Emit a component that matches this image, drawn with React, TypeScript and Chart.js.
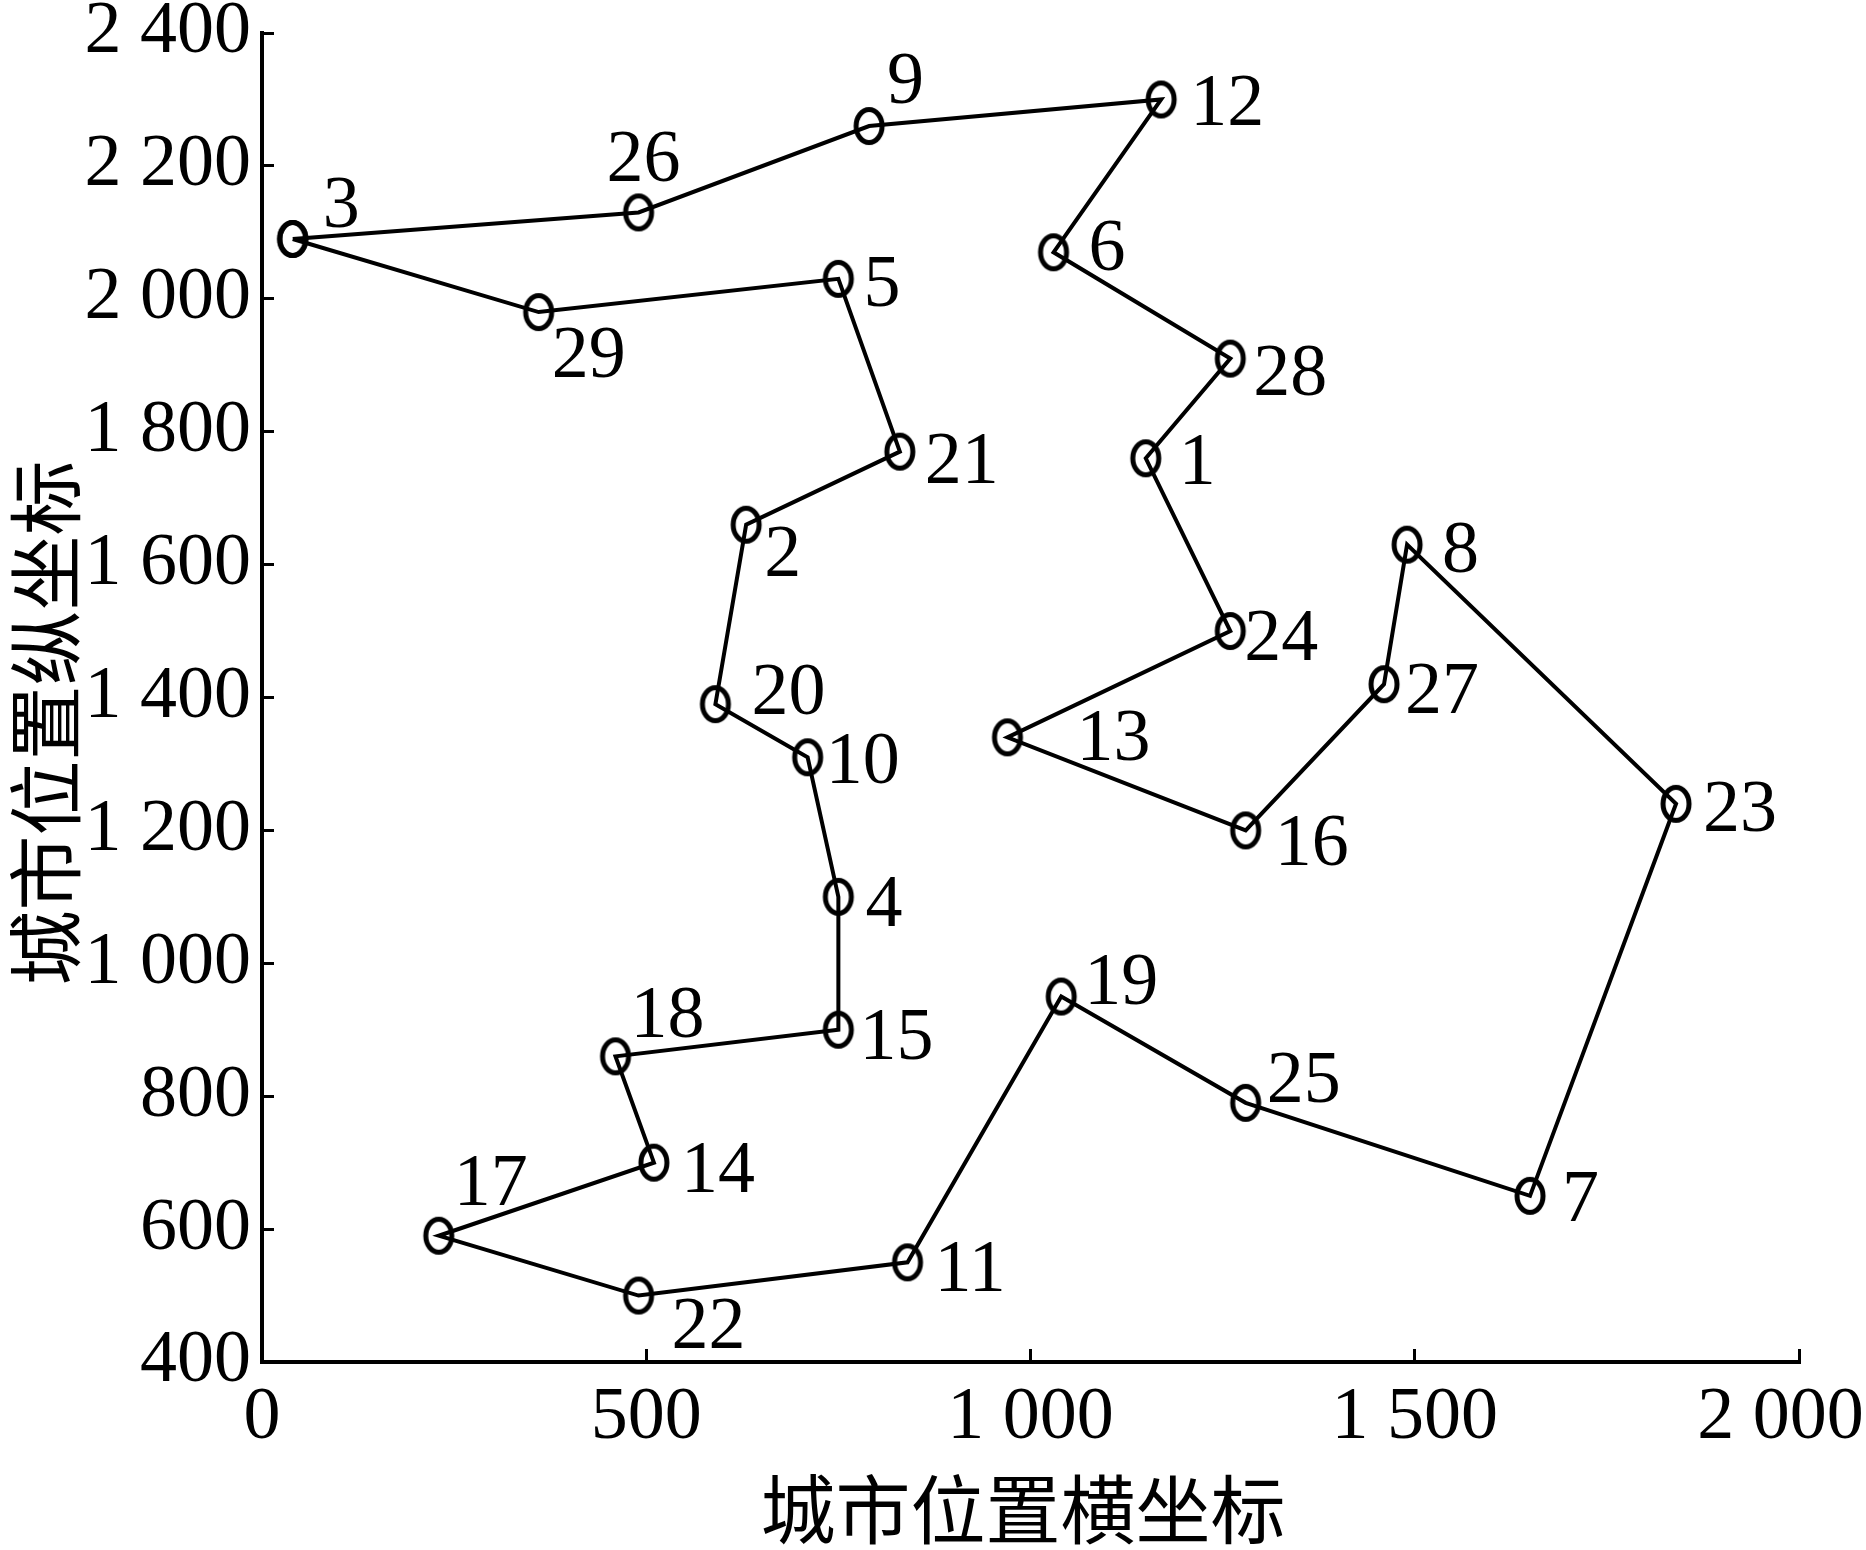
import React, { useEffect, useRef } from 'react';
import { Chart, registerables } from 'chart.js';

Chart.register(...registerables);

// ---- data (city coordinates and the tour drawn in the figure) ----
const cityIds = [1, 2, 3, 4, 5, 6, 7, 8, 9, 10, 11, 12, 13, 14, 15, 16, 17, 18, 19, 20, 21, 22, 23, 24, 25, 26, 27, 28, 29];
const cityX = [1150, 630, 40, 750, 750, 1030, 1650, 1490, 790, 710, 840, 1170, 970, 510, 750, 1280, 230, 460, 1040, 590, 830, 490, 1840, 1260, 1280, 490, 1460, 1260, 360];
const cityY = [1760, 1660, 2090, 1100, 2030, 2070, 650, 1630, 2260, 1310, 550, 2300, 1340, 700, 900, 1200, 590, 860, 950, 1390, 1770, 500, 1240, 1500, 790, 2130, 1420, 1910, 1980];
const tourOrder = [3, 26, 9, 12, 6, 28, 1, 24, 13, 16, 27, 8, 23, 7, 25, 19, 11, 22, 17, 14, 18, 15, 4, 10, 20, 2, 21, 5, 29, 3];

const xTickValues = [0, 500, 1000, 1500, 2000];
const xTickLabels = ['0', '500', '1 000', '1 500', '2 000'];
const yTickValues = [400, 600, 800, 1000, 1200, 1400, 1600, 1800, 2000, 2200, 2400];
const yTickLabels = ['400', '600', '800', '1 000', '1 200', '1 400', '1 600', '1 800', '2 000', '2 200', '2 400'];

const xAxisTitle = '城市位置横坐标';
const yAxisTitle = '城市位置纵坐标';

// ---- styling: label placement relative to each marker (px): [left edge dx, glyph centre dy] ----
const labelOffsets: Record<number, [number, number]> = {
  1: [33, 1], 2: [18, 26], 3: [30, -37], 4: [27, 4], 5: [25, 2], 6: [35, -7], 7: [32, 0],
  8: [35, 2], 9: [18, -48], 10: [18, 1], 11: [27, 4], 12: [29, 1], 13: [69, -2], 14: [27, 4],
  15: [21, 4], 16: [29, 10], 17: [15, -56], 18: [15, -44], 19: [23, -18], 20: [36, -15],
  21: [25, 6], 22: [33, 27], 23: [27, 2], 24: [14, 4], 25: [21, -26], 26: [-32, -56],
  27: [21, 4], 28: [23, 11], 29: [13, 40],
};

const SERIF = "'Liberation Serif', 'Times New Roman', serif";
const CJK = "'Noto Sans CJK SC', 'Noto Sans CJK JP', sans-serif";
const NUM_SIZE = 74;
const TITLE_SIZE = 75;

const CANVAS_W = 1866;
const CANVAS_H = 1550;
const AREA_LEFT = 262;
const AREA_RIGHT = 1799;
const AREA_TOP = 33;
const AREA_BOTTOM = 1362;

function makeMarker(): HTMLCanvasElement {
  const c = document.createElement('canvas');
  c.width = 38;
  c.height = 46;
  const g = c.getContext('2d')!;
  g.strokeStyle = '#000';
  g.lineWidth = 5;
  g.beginPath();
  g.ellipse(19, 23, 13, 16.5, 0, 0, Math.PI * 2);
  g.stroke();
  return c;
}

const cityLabelPlugin = {
  id: 'cityLabels',
  afterDatasetsDraw(chart: any) {
    const { ctx, scales } = chart;
    const xs = scales.x;
    const ys = scales.y;
    ctx.save();
    ctx.fillStyle = '#000';
    ctx.font = `${NUM_SIZE}px ${SERIF}`;
    ctx.textAlign = 'left';
    ctx.textBaseline = 'alphabetic';
    cityIds.forEach((id, i) => {
      const [dx, dy] = labelOffsets[id];
      const px = xs.getPixelForValue(cityX[i]);
      const py = ys.getPixelForValue(cityY[i]);
      ctx.fillText(String(id), px + dx, py + dy + NUM_SIZE * 0.338);
    });
    ctx.restore();
  },
};

const axisTitlePlugin = {
  id: 'axisTitles',
  afterDraw(chart: any) {
    const { ctx } = chart;
    ctx.save();
    ctx.fillStyle = '#000';
    ctx.font = `${TITLE_SIZE}px ${CJK}`;
    ctx.textAlign = 'center';
    ctx.textBaseline = 'middle';
    ctx.fillText(xAxisTitle, 1023, 1509);
    ctx.translate(45, 723);
    ctx.rotate(-Math.PI / 2);
    ctx.fillText(yAxisTitle, 0, 0);
    ctx.restore();
  },
};

export default function App() {
  const canvasRef = useRef<HTMLCanvasElement | null>(null);

  useEffect(() => {
    if (!canvasRef.current) return;
    const points = tourOrder.map((id) => ({ x: cityX[id - 1], y: cityY[id - 1] }));
    const marker = makeMarker();

    const chart = new Chart(canvasRef.current, {
      type: 'scatter',
      data: {
        datasets: [
          {
            data: points,
            showLine: true,
            borderColor: '#000',
            borderWidth: 4,
            tension: 0,
            pointStyle: marker as any,
            pointRadius: 16,
            pointBorderColor: '#000',
            pointBackgroundColor: 'rgba(0,0,0,0)',
            pointHoverRadius: 16,
          },
        ],
      },
      options: {
        animation: false,
        responsive: false,
        events: [],
        layout: { padding: { left: 0, top: AREA_TOP, right: CANVAS_W - AREA_RIGHT, bottom: 0 } },
        plugins: { legend: { display: false }, tooltip: { enabled: false } },
        scales: {
          x: {
            type: 'linear',
            position: 'bottom',
            min: 0,
            max: 2000,
            afterBuildTicks: (s: any) => {
              s.ticks = xTickValues.map((v) => ({ value: v }));
            },
            afterFit: (s: any) => {
              s.height = CANVAS_H - AREA_BOTTOM;
              s.paddingLeft = 0;
              s.paddingRight = 0;
            },
            ticks: {
              autoSkip: false,
              maxRotation: 0,
              minRotation: 0,
              padding: 25,
              color: '#000',
              font: { family: SERIF, size: NUM_SIZE },
              callback: (v: any) => {
                const i = xTickValues.indexOf(Number(v));
                // last label is pushed left so that it stays inside the picture
                return i === xTickValues.length - 1 ? xTickLabels[i] + '  ' : xTickLabels[i];
              },
            },
            grid: {
              display: true,
              drawOnChartArea: false,
              drawTicks: true,
              tickLength: -13,
              color: '#000',
              lineWidth: 3,
            },
            border: { display: true, color: '#000', width: 4 },
          },
          y: {
            type: 'linear',
            position: 'left',
            min: 400,
            max: 2400,
            afterBuildTicks: (s: any) => {
              s.ticks = yTickValues.map((v) => ({ value: v }));
            },
            afterFit: (s: any) => {
              s.width = AREA_LEFT;
              s.paddingTop = 0;
              s.paddingBottom = 0;
            },
            ticks: {
              autoSkip: false,
              padding: 23,
              color: '#000',
              font: { family: SERIF, size: NUM_SIZE },
              callback: (v: any) => yTickLabels[yTickValues.indexOf(Number(v))],
            },
            grid: {
              display: true,
              drawOnChartArea: false,
              drawTicks: true,
              tickLength: -12,
              color: '#000',
              lineWidth: 3,
            },
            border: { display: true, color: '#000', width: 4 },
          },
        },
      },
      plugins: [cityLabelPlugin, axisTitlePlugin],
    });

    return () => chart.destroy();
  }, []);

  return (
    <div style={{ position: 'absolute', left: 0, top: 0, width: CANVAS_W, height: CANVAS_H, background: '#fff' }}>
      <canvas
        ref={canvasRef}
        width={CANVAS_W}
        height={CANVAS_H}
        style={{ display: 'block', width: CANVAS_W, height: CANVAS_H }}
      />
    </div>
  );
}
